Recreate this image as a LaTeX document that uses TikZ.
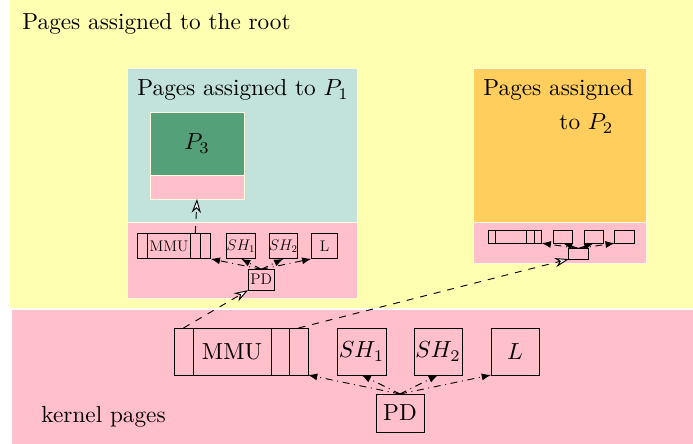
\documentclass[tikz,border=0pt]{standalone}
\usepackage{amsmath,amssymb}
\usetikzlibrary{arrows.meta}

\definecolor{rootyellow}{RGB}{255,255,178}
\definecolor{kernpink}{RGB}{255,192,203}
\definecolor{onecyan}{RGB}{193,227,219}
\definecolor{threegreen}{RGB}{84,161,121}
\definecolor{twoorange}{RGB}{255,206,92}
\definecolor{edgecream}{RGB}{255,250,225}

\def\pxu{0.43pt}

\tikzset{
  area/.style={draw=edgecream, thin, inner sep=0pt, outer sep=0pt, anchor=north west},
  cell/.style={draw, inner sep=0pt, outer sep=0pt, anchor=north west, minimum height=47*\pxu},
  title/.style={anchor=base west, inner sep=0pt},
  ptr/.style={dash dot, -{Latex[length=4pt, width=3pt]}},
  map/.style={dashed, -{Stealth[fill=white, length=6pt, width=4pt]}},
}

% page table: prefix, scope options, labels
\newcommand{\pagetable}[7]{
  \begin{scope}[#2, transform shape]
    \node[cell, minimum width=19*\pxu] (#1mmua) at (0,0) {};
    \node[cell, minimum width=78*\pxu] (#1mmub) at (19,0) {#3};
    \node[cell, minimum width=18*\pxu] (#1mmuc) at (97,0) {};
    \node[cell, minimum width=19*\pxu] (#1mmud) at (115,0) {};
    \node[cell, minimum width=49*\pxu] (#1shone) at (163,0) {#4};
    \node[cell, minimum width=48*\pxu] (#1shtwo) at (240,0) {#5};
    \node[cell, minimum width=48*\pxu] (#1ell) at (317,0) {#6};
    \node[cell, minimum width=48*\pxu, minimum height=38*\pxu] (#1pd) at (202,66) {#7};

    \draw[ptr] (#1pd.north) -- (#1mmud.south east);
    \draw[ptr] (#1pd.north) -- (#1shone.south);
    \draw[ptr] (#1pd.north) -- (#1shtwo.south);
    \draw[ptr] (#1pd.north) -- (#1ell.south west);
  \end{scope}
}

\begin{document}
\begin{tikzpicture}[x=0.43pt, y=-0.43pt]
  \useasboundingbox (0,0) rectangle (693,444);

  % regions
  \fill[rootyellow] (10,0) rectangle (693,308);
  \fill[kernpink] (12,310) rectangle (693,444);
  \filldraw[onecyan, draw=edgecream, thin] (127,68) rectangle (357,222);
  \filldraw[kernpink, draw=edgecream, thin] (127,222) rectangle (357,298);
  \filldraw[twoorange, draw=edgecream, thin] (473,68) rectangle (646,222);
  \filldraw[kernpink, draw=edgecream, thin] (473,222) rectangle (646,263);

  \node[area, fill=threegreen, minimum width=94*\pxu, minimum height=63*\pxu] (pthree) at (150,112) {$P_3$};
  \node[area, fill=kernpink, minimum width=94*\pxu, minimum height=24*\pxu] (pthreelow) at (150,175) {};

  % titles
  \node[title] (roottitle) at (22,30) {Pages assigned to the root};
  \node[title] (onetitle) at (137,96) {Pages assigned to $P_1$};
  \node[title] (twotitle) at (483,96) {Pages assigned};
  \node[title] (twotitleb) at (559,130) {to $P_2$};
  \node[title] (kerneltitle) at (41,422) {kernel pages};

  % page tables
  \pagetable{k}{shift={(174,328)}}{MMU}{$SH_1$}{$SH_2$}{$L$}{PD}
  \pagetable{one}{shift={(137,233)}, scale=0.55}{\large MMU}{\large $SH_1$}{\large $SH_2$}{\large L}{\large PD}
  \pagetable{two}{shift={(488,230)}, xscale=0.4, yscale=0.28}{}{}{}{}{}

  % mappings
  \draw[map] (kmmua.north) -- (onepd.south west);
  \draw[map] (kmmud.north) -- (twopd.south west);
  \draw[map] (onemmuc.north) -- (pthreelow.south);
\end{tikzpicture}
\end{document}
